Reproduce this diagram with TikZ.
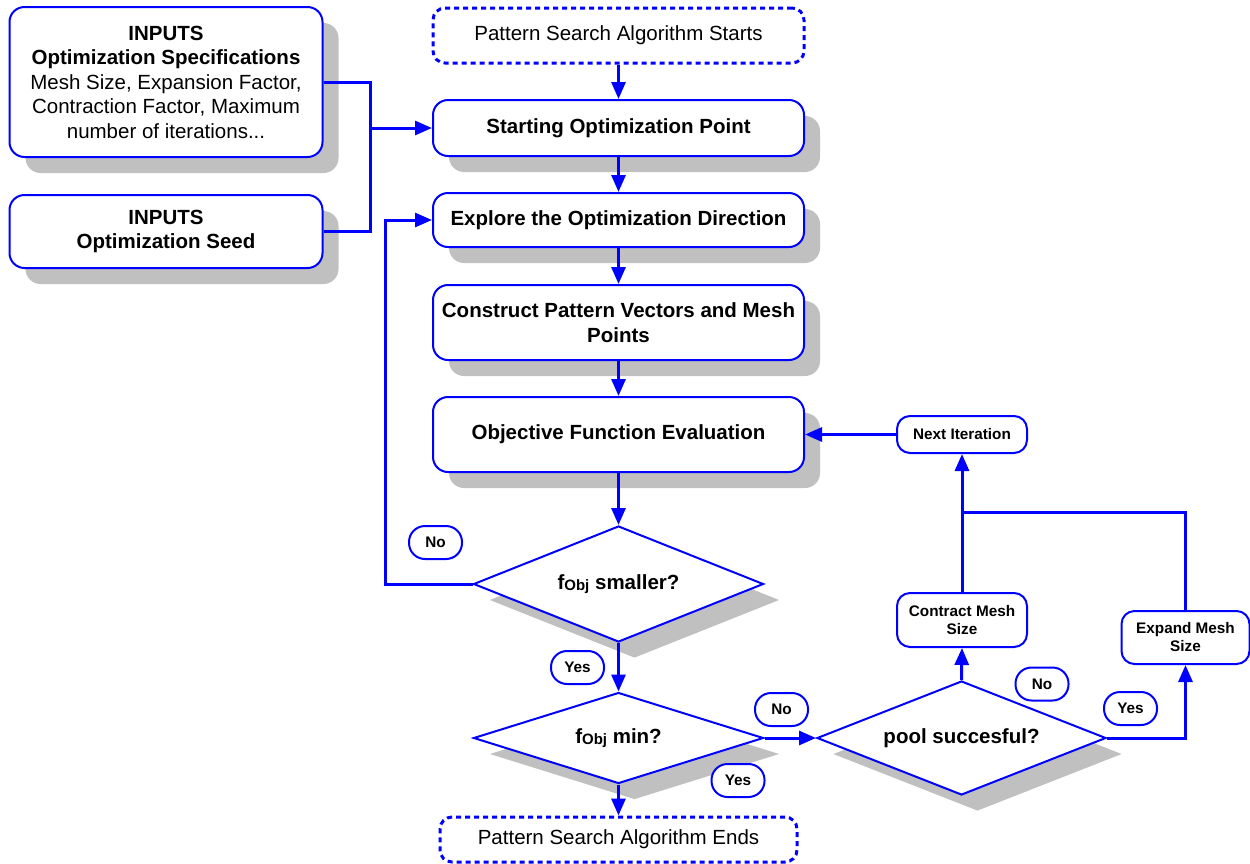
\documentclass[tikz,border=0pt]{standalone}
\usepackage{fontspec}
\setmainfont{Liberation Sans}
\usetikzlibrary{shapes.geometric,shadows,arrows.meta}
\definecolor{flowblue}{RGB}{0,0,255}
\definecolor{shade}{RGB}{192,192,192}
\begin{document}
\begin{tikzpicture}[x=1pt,y=-1pt,
  shadowed/.style={general shadow={fill=shade, shadow xshift=16pt, shadow yshift=-16pt}},
  box/.style={draw=flowblue, line width=2pt, fill=white, rounded corners=15pt,
    align=center, inner sep=0pt, font=\bfseries\fontsize{20.5}{24.5}\selectfont, shadowed},
  terminal/.style={draw=flowblue, line width=3pt, dash pattern=on 5pt off 4pt, fill=white,
    rounded corners=12pt, align=center, inner sep=0pt, font=\fontsize{20.5}{24}\selectfont},
  decision/.style={diamond, draw=flowblue, line width=2pt, fill=white, inner sep=0pt,
    align=center, font=\bfseries\fontsize{20.5}{24}\selectfont,
    general shadow={fill=shade, shadow xshift=16pt, shadow yshift=-16pt}},
  smallbox/.style={draw=flowblue, line width=2pt, fill=white, rounded corners=13pt,
    align=center, inner sep=0pt, font=\bfseries\fontsize{15.3}{18}\selectfont},
  tag/.style={draw=flowblue, line width=2pt, fill=white, rounded corners=16pt,
    inner sep=0pt, minimum width=53pt, minimum height=33pt, font=\bfseries\fontsize{15.3}{17}\selectfont},
  link/.style={draw=flowblue, line width=3pt},
  arrow/.style={link, -{Triangle[length=17pt,width=14pt]}}
]
\useasboundingbox (0,0) rectangle (1250,863);

% inputs
\node[box, minimum width=313pt, minimum height=150pt] (spec) at (166,82)
  {INPUTS\\Optimization Specifications\\
   {\mdseries Mesh Size, Expansion Factor,}\\
   {\mdseries Contraction Factor, Maximum}\\
   {\mdseries number of iterations...}};
\node[box, minimum width=313pt, minimum height=73pt] (seed) at (166,231.5)
  {INPUTS\\Optimization Seed};

% main column
\node[terminal, minimum width=371pt, minimum height=55pt] (start) at (618.5,35.5)
  {Pattern Search Algorithm Starts};
\node[box, minimum width=371pt, minimum height=56pt] (sop) at (618.5,128)
  {Starting Optimization Point};
\node[box, minimum width=371pt, minimum height=54pt] (explore) at (618.5,220)
  {Explore the Optimization Direction};
\node[box, minimum width=371pt, minimum height=75pt] (construct) at (618.5,322.5)
  {Construct Pattern Vectors and Mesh\\Points};
\node[box, minimum width=371pt, minimum height=75pt] (objective) at (618.5,434.5)
  {Objective Function Evaluation};
\node[decision, shape aspect=2.5, minimum width=290pt, minimum height=116pt] (smaller) at (618.5,584)
  {f{\fontsize{15}{15}\selectfont\raisebox{-1.5pt}{Obj}} smaller?};
\node[decision, shape aspect=3.2, minimum width=290pt, minimum height=91pt] (mindia) at (618.5,738)
  {f{\fontsize{15}{15}\selectfont\raisebox{-1.5pt}{Obj}} min?};
\node[terminal, minimum width=357pt, minimum height=45pt] (finish) at (618.5,839.5)
  {Pattern Search Algorithm Ends};

% mesh update branch
\node[decision, shape aspect=2.5, minimum width=289pt, minimum height=114pt] (pool) at (961.5,738)
  {pool succesful?};
\node[smallbox, minimum width=130pt, minimum height=37pt] (next) at (962,434.5)
  {Next Iteration};
\node[smallbox, minimum width=130pt, minimum height=54pt] (contract) at (962,620)
  {Contract Mesh\\Size};
\node[smallbox, minimum width=128pt, minimum height=53pt] (expand) at (1185.5,637.5)
  {Expand Mesh\\Size};

% answer tags
\node[tag] (tno1) at (435.5,542.5) {No};
\node[tag] (tyes1) at (577.5,667.5) {Yes};
\node[tag] (tno2) at (781.5,709.5) {No};
\node[tag] (tyes2) at (738,780.5) {Yes};
\node[tag] (tno3) at (1042,684) {No};
\node[tag] (tyes3) at (1130.5,708.5) {Yes};

% connectors
\coordinate (jin) at (370,128);
\coordinate (jmesh) at (962,512);
\draw[link] (spec.east) -| (jin) |- (seed.east);
\draw[arrow] (jin) -- (sop.west);
\draw[arrow] (start.south) -- (sop.north);
\draw[arrow] (sop.south) -- (explore.north);
\draw[arrow] (explore.south) -- (construct.north);
\draw[arrow] (construct.south) -- (objective.north);
\draw[arrow] (objective.south) -- (smaller.north);
\draw[arrow] (smaller.west) -- ++(-87,0) |- (explore.west);
\draw[arrow] (smaller.south) -- (mindia.north);
\draw[arrow] (mindia.south) -- (finish.north);
\draw[arrow] (mindia.east) -- (pool.west);
\draw[arrow] (pool.north) -- (contract.south);
\draw[arrow] (contract.north) -- (next.south);
\draw[arrow] (pool.east) -| (expand.south);
\draw[link] (expand.north) |- (jmesh);
\draw[arrow] (next.west) -- (objective.east);
\end{tikzpicture}
\end{document}
